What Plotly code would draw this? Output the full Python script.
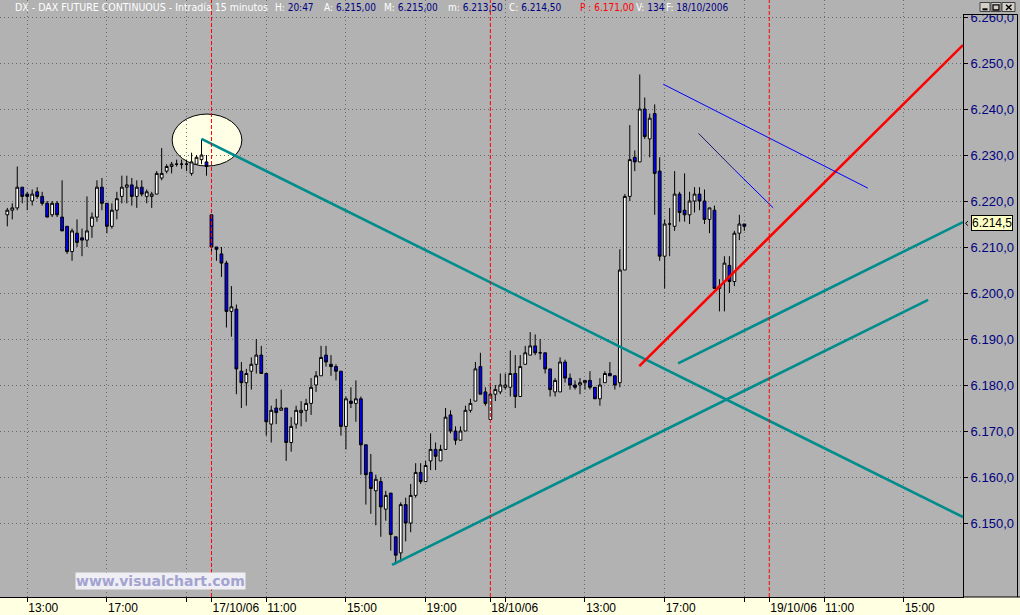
import plotly.graph_objects as go

# ---------------- data (15-minute bars, DAX future) ----------------
bar_index = list(range(149))
opens = [6217.0, 6218.0, 6218.5, 6223.0, 6221.5, 6220.0, 6222.0, 6221.0, 6219.5, 6217.0,
         6219.5, 6216.5, 6214.5, 6209.0, 6213.0, 6212.0, 6211.5, 6214.5, 6216.5, 6223.0,
         6219.5, 6214.5, 6218.0, 6221.0, 6223.0, 6223.5, 6221.0, 6223.0, 6221.0, 6221.0,
         6221.5, 6225.0, 6226.5, 6227.5, 6228.0, 6228.0, 6228.0, 6226.0, 6228.0, 6229.0,
         6228.5, 6217.0, 6210.0, 6208.5, 6206.5, 6196.0, 6196.5, 6183.0, 6180.5, 6183.0,
         6184.5, 6186.5, 6182.5, 6171.5, 6175.0, 6174.5, 6175.0, 6167.5, 6171.5, 6174.0,
         6174.5, 6176.0, 6180.0, 6182.0, 6186.5, 6184.5, 6184.0, 6183.0, 6171.0, 6176.5,
         6176.0, 6177.0, 6167.0, 6161.0, 6157.0, 6159.0, 6153.0, 6156.5, 6147.0, 6143.5,
         6154.0, 6150.0, 6156.0, 6161.0, 6159.0, 6163.5, 6166.0, 6163.5, 6166.0, 6173.5,
         6170.0, 6168.0, 6170.0, 6174.5, 6176.5, 6184.0, 6178.5, 6172.5, 6178.0, 6178.5,
         6179.5, 6179.5, 6182.5, 6177.5, 6184.5, 6186.5, 6188.5, 6187.0, 6187.0, 6183.5,
         6178.5, 6178.5, 6185.0, 6181.5, 6180.0, 6180.0, 6180.5, 6181.0, 6179.5, 6177.0,
         6180.5, 6182.5, 6182.0, 6180.5, 6205.0, 6221.0, 6229.5, 6228.5, 6240.0, 6233.5,
         6239.0, 6226.5, 6208.0, 6215.0, 6214.5, 6221.5, 6218.0, 6217.0, 6220.0, 6221.5,
         6220.0, 6216.0, 6218.0, 6201.0, 6202.5, 6206.0, 6202.5, 6213.0, 6215.0]
highs = [6218.5, 6219.5, 6227.5, 6223.0, 6222.0, 6222.5, 6223.0, 6222.0, 6220.0, 6220.0,
         6220.0, 6224.5, 6214.5, 6214.0, 6216.0, 6214.0, 6221.0, 6217.5, 6224.5, 6225.0,
         6219.5, 6219.5, 6222.0, 6225.5, 6225.5, 6225.0, 6224.5, 6224.5, 6222.5, 6222.0,
         6226.5, 6231.5, 6228.0, 6228.5, 6229.0, 6229.0, 6229.0, 6230.5, 6230.0, 6233.5,
         6230.0, 6217.0, 6210.0, 6210.0, 6207.0, 6201.5, 6197.5, 6185.0, 6183.5, 6186.0,
         6190.0, 6188.5, 6182.5, 6175.5, 6177.0, 6179.0, 6175.0, 6173.0, 6175.5, 6176.5,
         6177.0, 6181.5, 6183.0, 6188.5, 6188.5, 6186.5, 6184.5, 6183.0, 6177.5, 6179.5,
         6181.0, 6177.5, 6167.0, 6165.0, 6160.5, 6160.0, 6157.0, 6156.5, 6147.0, 6154.5,
         6155.5, 6158.5, 6163.0, 6163.0, 6163.5, 6169.5, 6167.5, 6167.0, 6175.0, 6174.5,
         6171.0, 6171.0, 6175.5, 6177.0, 6185.0, 6187.0, 6179.5, 6180.5, 6180.0, 6182.5,
         6182.5, 6187.5, 6186.5, 6186.5, 6188.5, 6191.5, 6191.0, 6190.0, 6187.0, 6183.5,
         6181.5, 6186.0, 6185.5, 6182.5, 6181.0, 6181.5, 6181.0, 6183.0, 6179.5, 6181.5,
         6183.0, 6185.0, 6182.0, 6209.5, 6221.5, 6236.5, 6231.0, 6247.5, 6242.5, 6239.0,
         6241.0, 6229.5, 6216.0, 6218.5, 6226.5, 6222.0, 6226.0, 6222.0, 6223.0, 6223.0,
         6222.5, 6218.5, 6219.0, 6203.0, 6208.0, 6208.0, 6213.5, 6217.0, 6215.0]
lows = [6214.5, 6216.0, 6218.0, 6219.5, 6218.0, 6219.0, 6220.5, 6219.0, 6216.5, 6216.5,
        6216.5, 6213.5, 6208.5, 6207.0, 6210.0, 6208.0, 6210.0, 6212.0, 6215.5, 6218.0,
        6213.0, 6214.0, 6216.0, 6219.5, 6219.5, 6219.0, 6218.5, 6221.0, 6219.5, 6218.5,
        6221.5, 6224.5, 6226.0, 6226.0, 6227.5, 6227.0, 6226.5, 6225.5, 6228.0, 6228.0,
        6225.5, 6208.5, 6207.0, 6203.5, 6192.5, 6190.5, 6178.0, 6175.0, 6175.5, 6179.0,
        6182.5, 6182.5, 6169.0, 6167.5, 6171.5, 6174.5, 6163.5, 6165.5, 6170.5, 6171.0,
        6172.0, 6173.5, 6178.5, 6182.0, 6184.0, 6182.0, 6181.0, 6169.0, 6166.0, 6175.0,
        6172.0, 6160.5, 6154.0, 6152.0, 6149.5, 6147.0, 6150.5, 6144.0, 6141.0, 6141.5,
        6146.0, 6148.0, 6155.5, 6158.5, 6159.0, 6161.5, 6161.5, 6163.5, 6166.0, 6169.5,
        6167.0, 6168.0, 6170.0, 6174.0, 6176.5, 6178.0, 6175.5, 6172.5, 6176.5, 6178.0,
        6179.0, 6177.5, 6175.0, 6177.5, 6184.5, 6186.5, 6186.5, 6185.5, 6182.5, 6177.5,
        6177.5, 6178.5, 6180.5, 6179.0, 6179.0, 6178.0, 6179.0, 6179.0, 6177.0, 6175.5,
        6180.5, 6182.0, 6179.0, 6179.5, 6205.0, 6220.0, 6226.5, 6228.5, 6233.5, 6229.5,
        6217.0, 6207.0, 6201.0, 6208.0, 6213.5, 6215.5, 6215.5, 6215.0, 6217.5, 6218.0,
        6215.0, 6213.0, 6201.0, 6196.0, 6196.0, 6200.0, 6201.5, 6211.5, 6213.5]
closes = [6218.0, 6218.5, 6223.0, 6221.0, 6221.0, 6221.5, 6221.0, 6219.5, 6216.5, 6219.5,
          6217.0, 6213.5, 6209.0, 6213.5, 6211.0, 6211.5, 6213.5, 6216.5, 6223.0, 6219.5,
          6214.5, 6218.0, 6220.5, 6223.0, 6223.5, 6221.0, 6223.0, 6221.5, 6222.0, 6221.5,
          6226.0, 6226.0, 6227.5, 6228.0, 6228.0, 6228.0, 6228.0, 6228.5, 6229.5, 6230.0,
          6227.5, 6210.0, 6209.5, 6206.5, 6196.0, 6197.0, 6183.5, 6180.5, 6182.5, 6184.5,
          6186.5, 6182.5, 6172.0, 6174.5, 6174.0, 6175.0, 6167.5, 6171.0, 6174.5, 6174.5,
          6176.0, 6179.5, 6182.0, 6186.0, 6185.0, 6184.0, 6183.0, 6171.0, 6177.0, 6176.0,
          6177.0, 6167.0, 6160.5, 6157.5, 6159.5, 6153.5, 6156.0, 6147.5, 6143.0, 6154.0,
          6150.0, 6156.0, 6161.0, 6159.0, 6162.5, 6166.0, 6164.5, 6166.0, 6173.0, 6170.0,
          6168.0, 6170.0, 6174.5, 6176.0, 6183.5, 6178.0, 6176.0, 6178.0, 6179.0, 6180.0,
          6180.0, 6182.5, 6177.5, 6184.0, 6187.0, 6188.5, 6187.0, 6187.0, 6183.5, 6179.0,
          6181.0, 6185.0, 6181.5, 6180.0, 6179.5, 6180.5, 6181.0, 6179.5, 6177.0, 6180.0,
          6182.5, 6182.0, 6180.0, 6205.0, 6221.0, 6229.0, 6228.5, 6240.0, 6234.0, 6238.0,
          6226.0, 6208.0, 6215.0, 6215.0, 6221.5, 6217.5, 6217.0, 6220.0, 6221.5, 6220.0,
          6216.0, 6218.5, 6201.0, 6201.5, 6206.5, 6202.5, 6213.0, 6215.0, 6214.5]

# axis ticks
y_tick_vals = [6150, 6160, 6170, 6180, 6190, 6200, 6210, 6220, 6230, 6240, 6250, 6260]
y_tick_text = ["6.150,0", "6.160,0", "6.170,0", "6.180,0", "6.190,0", "6.200,0",
               "6.210,0", "6.220,0", "6.230,0", "6.240,0", "6.250,0", "6.260,0"]
x_tick_vals = [4, 20, 36, 41, 52, 68, 84, 97, 100, 116, 132, 148, 153, 164, 180]
x_tick_text = ["13:00", "17:00", "", "17/10/06", "11:00", "15:00", "19:00", "18/10/06",
               "", "13:00", "17:00", "", "19/10/06", "11:00", "15:00"]
x_grid_vals = [4, 20, 36, 52, 68, 84, 100, 116, 132, 148, 164, 180]
day_starts = [41, 97, 153]

# drawn trend lines (bar index, price)
teal_down_x, teal_down_y = [39.0, 191.9], [6233.5, 6151.3]
teal_low_x, teal_low_y = [77.25, 184.9], [6140.9, 6198.5]
teal_up_x, teal_up_y = [134.7, 191.9], [6184.7, 6215.4]
red_x, red_y = [126.9, 191.9], [6184.1, 6253.9]
blue1_x, blue1_y = [131.7, 172.8], [6245.4, 6222.8]
blue2a_x, blue2a_y = [138.8, 146.1], [6234.7, 6226.7]
blue2b_x, blue2b_y = [146.1, 153.8], [6226.7, 6218.5]
ellipse_x, ellipse_y = [33.1, 47.1], [6227.6, 6238.9]

last_price = closes[-1]
title_parts = [
    (13, "DX - DAX FUTURE CONTINUOUS - Intradía 15 minutos", "", "#000080", 10.5),
    (273, "H: ", "20:47", "#000080", 10),
    (322, "A: ", "6.215,00", "#000080", 10),
    (382, "M: ", "6.215,00", "#000080", 10),
    (446, "m: ", "6.213,50", "#000080", 10),
    (507, "C: ", "6.214,50", "#000080", 10),
    (578, "", "P : 6.171,00", "#FF0000", 10),
    (634, "V: ", "134", "#000080", 10),
    (664, "F: ", "18/10/2006", "#000080", 10),
]

# ---------------- styling ----------------
GRAY = "#B2B2B2"
YELLOW = "#FFFFE1"
GRID = "#6A6A6A"
TEAL = "#008C8C"
PW, PH = 963.0, 597.0
X_RANGE = [-7.3 / 4.98, (963 - 7.3) / 4.98]
Y_RANGE = [6250 - 534 / 4.6, 6250 + 63 / 4.6]


def pxx(x):
    return x / PW


def pxy(y):
    return 1 - y / PH


fig = go.Figure()
fig.add_trace(go.Candlestick(
    x=bar_index, open=opens, high=highs, low=lows, close=closes,
    increasing=dict(line=dict(color="black", width=1), fillcolor="white"),
    decreasing=dict(line=dict(color="black", width=1), fillcolor="#0000FF"),
    whiskerwidth=0, hoverinfo="skip", showlegend=False,
))
# empty trace for overlay grid axis
fig.add_trace(go.Scatter(x=[], y=[], xaxis="x2", showlegend=False))

for xs, ys, col, w in [
    (teal_down_x, teal_down_y, TEAL, 2.6),
    (teal_low_x, teal_low_y, TEAL, 2.6),
    (teal_up_x, teal_up_y, TEAL, 2.6),
    (red_x, red_y, "#FF0000", 2.6),
    (blue1_x, blue1_y, "#0000FF", 1),
    (blue2a_x, blue2a_y, "#1A1A70", 1),
    (blue2b_x, blue2b_y, "#0000FF", 1),
]:
    fig.add_trace(go.Scatter(x=xs, y=ys, mode="lines", line=dict(color=col, width=w),
                             hoverinfo="skip", showlegend=False))

shapes = []
# right axis panel
shapes.append(dict(type="rect", xref="paper", yref="paper", x0=1, x1=pxx(1021), y0=0, y1=1,
                   fillcolor=GRAY, line=dict(width=0), layer="below"))
# ellipse highlight
shapes.append(dict(type="circle", xref="x", yref="y", x0=ellipse_x[0], x1=ellipse_x[1],
                   y0=ellipse_y[0], y1=ellipse_y[1], fillcolor="#FFFFE6",
                   line=dict(color="black", width=1), layer="below"))
# day separators
for d in day_starts:
    shapes.append(dict(type="line", xref="x", yref="paper", x0=d, x1=d, y0=0, y1=1,
                       line=dict(color="#FF0000", width=1, dash="4px,2px")))
# title bar covering top of right panel
shapes.append(dict(type="rect", xref="paper", yref="paper", x0=pxx(962.5), x1=pxx(1021),
                   y0=pxy(14.5), y1=1, fillcolor=GRAY, line=dict(width=0), layer="above"))
shapes.append(dict(type="line", xref="paper", yref="paper", x0=pxx(963), x1=pxx(1017.5),
                   y0=pxy(14.5), y1=pxy(14.5), line=dict(color="black", width=1)))
shapes.append(dict(type="line", xref="paper", yref="paper", x0=pxx(1017.5), x1=pxx(1017.5),
                   y0=pxy(14.5), y1=0, line=dict(color="black", width=1)))
shapes.append(dict(type="line", xref="paper", yref="paper", x0=1, x1=pxx(1021),
                   y0=0, y1=0, line=dict(color="black", width=1)))
# window buttons
for bx0, bx1 in [(980, 990), (991, 1001), (1002, 1015)]:
    shapes.append(dict(type="rect", xref="paper", yref="paper", x0=pxx(bx0), x1=pxx(bx1),
                       y0=pxy(11.5), y1=pxy(2.5), fillcolor="#D4D0C8",
                       line=dict(color="#404040", width=1)))
shapes.append(dict(type="line", xref="paper", yref="paper", x0=pxx(982.5), x1=pxx(987.5),
                   y0=pxy(9.3), y1=pxy(9.3), line=dict(color="black", width=2)))
shapes.append(dict(type="rect", xref="paper", yref="paper", x0=pxx(993), x1=pxx(999),
                   y0=pxy(10), y1=pxy(4.8), line=dict(color="black", width=1.3)))
shapes.append(dict(type="line", xref="paper", yref="paper", x0=pxx(1006), x1=pxx(1011.5),
                   y0=pxy(4.8), y1=pxy(10), line=dict(color="black", width=1.5)))
shapes.append(dict(type="line", xref="paper", yref="paper", x0=pxx(1006), x1=pxx(1011.5),
                   y0=pxy(10), y1=pxy(4.8), line=dict(color="black", width=1.5)))
# small pointer beside the price box
shapes.append(dict(type="path", xref="paper", yref="paper",
                   path=f"M {pxx(968)},{pxy(221)} L {pxx(965.5)},{pxy(223.3)} L {pxx(968)},{pxy(225.6)}",
                   line=dict(color="black", width=1)))

annotations = []
for x, lab, val, vcol, fsize in title_parts:
    txt = lab + (f'<span style="color:{vcol}">{val}</span>' if val else "")
    annotations.append(dict(xref="paper", yref="paper", x=pxx(x), y=pxy(7.5), text=txt,
                            showarrow=False, xanchor="left", yanchor="middle",
                            font=dict(family="DejaVu Sans Condensed, Liberation Sans, Arial",
                                      size=fsize, color="white")))
annotations.append(dict(xref="paper", yref="y", x=pxx(970.5), y=last_price, yshift=3,
                        text="6.214,5", showarrow=False, xanchor="left", yanchor="middle",
                        bgcolor="#FFFFC8", bordercolor="black", borderwidth=1, borderpad=0,
                        font=dict(family="Liberation Sans, Arial", size=12, color="black")))
annotations.append(dict(xref="paper", yref="paper", x=pxx(75), y=pxy(580.5),
                        text="<b>www.visualchart.com</b>", showarrow=False,
                        xanchor="left", yanchor="middle", bgcolor="#EEEEF4", borderpad=0,
                        font=dict(family="DejaVu Sans, Verdana", size=14, color="#A3A3D0")))

fig.update_layout(
    width=1020, height=615,
    margin=dict(l=0, r=57, t=0, b=18, pad=0),
    paper_bgcolor=YELLOW, plot_bgcolor=GRAY,
    showlegend=False, boxgap=0.2,
    shapes=shapes, annotations=annotations,
    xaxis=dict(range=X_RANGE, tickmode="array", tickvals=x_tick_vals, ticktext=x_tick_text,
               tickangle=0, ticks="outside", ticklen=4, tickcolor="black",
               ticklabelposition="outside right", showgrid=False, zeroline=False,
               showline=True, linecolor="black", linewidth=1, automargin=False,
               rangeslider=dict(visible=False), fixedrange=True,
               tickfont=dict(family="Liberation Sans, Arial", size=12, color="black")),
    xaxis2=dict(range=X_RANGE, overlaying="x", anchor="y", tickmode="array",
                tickvals=x_grid_vals, showticklabels=False, ticks="", showgrid=True,
                gridcolor=GRID, gridwidth=1, griddash="1px,3px", zeroline=False,
                showline=False, automargin=False, fixedrange=True),
    yaxis=dict(range=Y_RANGE, side="right", tickmode="array", tickvals=y_tick_vals,
               ticktext=y_tick_text, ticks="outside", ticklen=4, tickcolor="black",
               showgrid=True, gridcolor=GRID, gridwidth=1, griddash="1px,3px",
               zeroline=False, showline=True, linecolor="black", linewidth=1,
               automargin=False, fixedrange=True,
               tickfont=dict(family="Liberation Sans, Arial", size=13, color="#000080")),
)

fig.write_html("out.html", config={"displayModeBar": False},
               post_script="document.body.style.margin='0';")
